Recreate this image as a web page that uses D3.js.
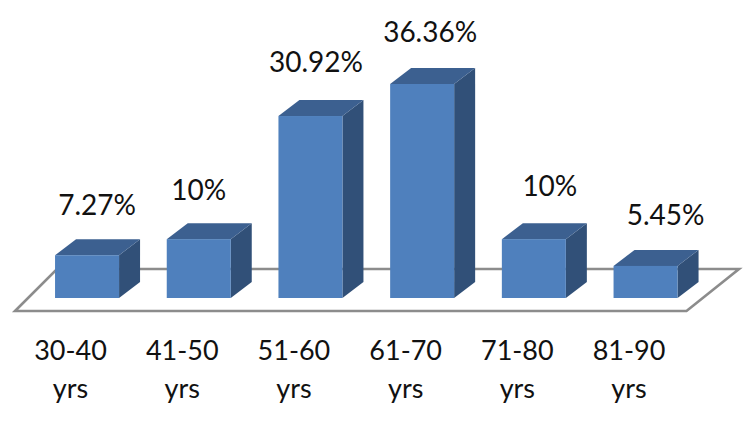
<!DOCTYPE html>
<html>
<head>
<meta charset="utf-8">
<script src="https://cdn.jsdelivr.net/npm/d3@7/dist/d3.min.js"></script>
<style>
html,body{margin:0;padding:0;background:#fff;}
svg{display:block;}
text{font-family:Lato,"Open Sans",sans-serif;fill:#111;}
</style>
</head>
<body>
<div id="chart"></div>
<script>
const ageRanges = ["30-40", "41-50", "51-60", "61-70", "71-80", "81-90"];
const unitLabel = "yrs";
const shares = [7.27, 10, 30.92, 36.36, 10, 5.45];
const shareLabels = ["7.27%", "10%", "30.92%", "36.36%", "10%", "5.45%"];

const width = 750, height = 421;
const baseY = 298;              // front edge of the bar feet
const depthX = 21, depthY = 16; // oblique offset of the 3D extrusion

// Hand-placed nudges for the value labels, relative to each column's front face
const labelShiftX = [10, 0, 5.5, 8, 16, 20];
const labelLift = [40, 39, 44, 42, 43, 40.5];

const svg = d3.select("#chart").append("svg")
  .attr("width", width).attr("height", height);

const x = d3.scaleBand().domain(ageRanges).range([31.2, 701.4]).paddingInner(0.427).paddingOuter(0.2135);
const y = d3.scaleLinear().domain([0, 36.36]).range([baseY, 84]);

// Floor plane the columns stand on
svg.append("path")
  .attr("d", d3.line()([[15, 311], [686.5, 311], [739, 269], [57, 269]]) + "Z")
  .attr("fill", "#fff")
  .attr("stroke", "#8c8c8c")
  .attr("stroke-width", 2.6)
  .attr("stroke-linejoin", "miter");

const bars = svg.append("g").selectAll("g")
  .data(ageRanges.map((range, i) => ({range, i, share: shares[i], label: shareLabels[i]})))
  .join("g");

// Right side face
bars.append("path")
  .attr("fill", "#315078")
  .attr("d", d => {
    const r = x(d.range) + x.bandwidth(), t = y(d.share);
    return d3.line()([[r, t], [r + depthX, t - depthY], [r + depthX, baseY - depthY], [r, baseY]]) + "Z";
  });

// Top face
bars.append("path")
  .attr("fill", "#3c6090")
  .attr("d", d => {
    const l = x(d.range), r = l + x.bandwidth(), t = y(d.share);
    return d3.line()([[l, t], [l + depthX, t - depthY], [r + depthX, t - depthY], [r, t]]) + "Z";
  });

// Front face
bars.append("rect")
  .attr("fill", "#4f80bd")
  .attr("x", d => x(d.range))
  .attr("y", d => y(d.share))
  .attr("width", x.bandwidth())
  .attr("height", d => baseY - y(d.share));

// Value labels above each column
bars.append("text")
  .attr("x", d => x(d.range) + x.bandwidth() / 2 + labelShiftX[d.i])
  .attr("y", d => y(d.share) - labelLift[d.i])
  .attr("text-anchor", "middle")
  .attr("font-size", 28)
  .text(d => d.label);

// Two-line category labels
const cats = svg.append("g").selectAll("text")
  .data(ageRanges)
  .join("text")
  .attr("text-anchor", "middle")
  .attr("font-size", 27);
cats.append("tspan")
  .attr("x", d => x(d) + x.bandwidth() / 2 - 16.5)
  .attr("y", 360)
  .text(d => d);
cats.append("tspan")
  .attr("x", d => x(d) + x.bandwidth() / 2 - 16.5)
  .attr("y", 397.5)
  .text(unitLabel);
</script>
</body>
</html>
